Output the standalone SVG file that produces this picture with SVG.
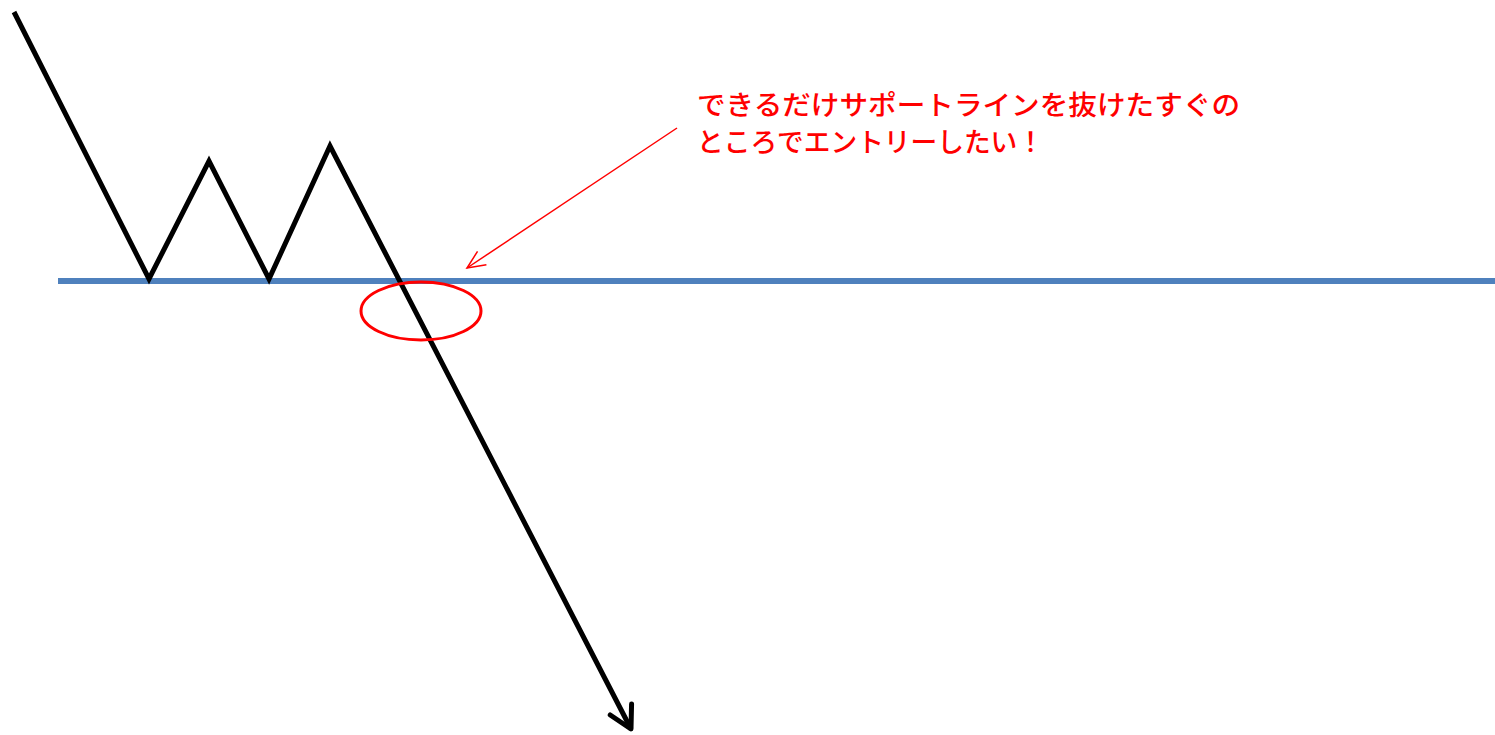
<svg xmlns="http://www.w3.org/2000/svg" width="1495" height="735" viewBox="0 0 1495 735">
<style>
.price{fill:none;stroke:#000;stroke-width:5;stroke-linejoin:miter;stroke-linecap:butt}
.support{stroke:#4F81BD;stroke-width:6}
.note{fill:#FF0000;font-family:"Noto Sans CJK JP","Noto Sans",sans-serif;font-size:27px;font-weight:500}
</style>
<defs>
<marker id="blackHead" markerUnits="userSpaceOnUse" markerWidth="40" markerHeight="40" refX="30" refY="20" orient="auto" viewBox="0 0 40 40">
<path d="M8,8 L30,20 L8,32" fill="none" stroke="#000" stroke-width="5" stroke-linecap="round" stroke-linejoin="round"/>
</marker>
<marker id="redHead" markerUnits="userSpaceOnUse" markerWidth="30" markerHeight="30" refX="24" refY="15" orient="auto" viewBox="0 0 30 30">
<path d="M6,7 L24,15 L6,23" fill="none" stroke="#FF0000" stroke-width="1.5"/>
</marker>
</defs>
<g id="support-line"><line class="support" x1="58" y1="281" x2="1495" y2="281"/></g>
<g id="connectors">
<polyline class="price" points="14,12 149,279 209,161 269,279 330,146 631,729" marker-end="url(#blackHead)"/>
<line x1="677" y1="128" x2="467" y2="268" stroke="#FF0000" stroke-width="1.5" marker-end="url(#redHead)"/>
</g>
<g id="breakout-circle"><ellipse cx="421" cy="311" rx="60" ry="29" fill="none" stroke="#FF0000" stroke-width="3"/></g>
<g id="note">
<text class="note" x="697" y="115" textLength="543" lengthAdjust="spacingAndGlyphs">できるだけサポートラインを抜けたすぐの</text>
<text class="note" x="697" y="152" textLength="347" lengthAdjust="spacingAndGlyphs">ところでエントリーしたい！</text>
</g>
</svg>
